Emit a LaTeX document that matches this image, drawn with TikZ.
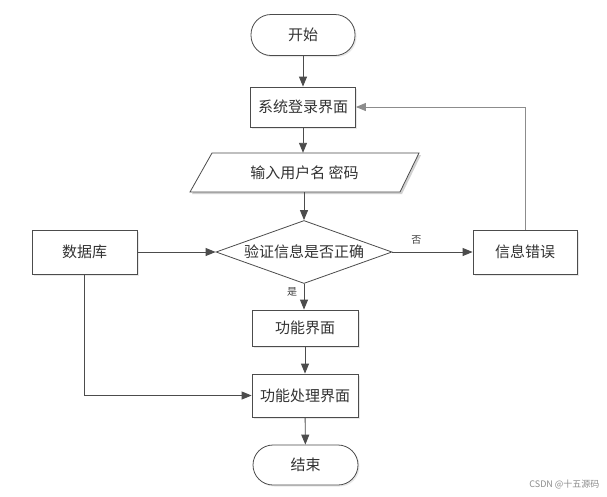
\documentclass[tikz,border=0pt]{standalone}
\usepackage{fontspec}
\setmainfont{Noto Sans CJK SC}
\usetikzlibrary{shapes.geometric,arrows.meta,shadows}
\begin{document}
\begin{tikzpicture}[x=1pt,y=-1pt,
  every node/.style={font=\fontsize{15}{17}\selectfont, text=black!80},
  shad/.style={drop shadow={opacity=0.18,shadow xshift=1.5pt,shadow yshift=-1.5pt}},
  procbox/.style={draw=black!70, fill=white, line width=0.8pt, minimum width=105pt, minimum height=40pt, inner sep=0pt, shad},
  termbox/.style={draw=black!70, fill=white, line width=0.8pt, rounded corners=20pt, minimum width=104pt, minimum height=41pt, inner sep=0pt, shad},
  decbox/.style={diamond, draw=black!70, fill=white, line width=0.8pt, aspect=2.8, minimum width=176pt, minimum height=63pt, inner sep=0pt},
  conn/.style={draw=black!70, line width=0.9pt, -{Triangle[length=10pt,width=8pt]}},
  lbl/.style={font=\fontsize{10}{12}\selectfont, text=black!75}
]
\useasboundingbox (0,0) rectangle (607,496);
\fill[white] (0,0) rectangle (607,496);

\node[termbox] (start) at (303,35) {开始};
\node[procbox] (login) at (303,107) {系统登录界面};
% parallelogram input
\fill[black!18] (214,155) -- (421,155) -- (402,194) -- (192,194) -- cycle;
\draw[black!70, fill=white, line width=0.8pt] (212,153) -- (419,153) -- (400,192) -- (190,192) -- cycle;
\node[minimum width=180pt, minimum height=39pt, inner sep=0pt] (input) at (304.5,172.5) {输入用户名 密码};
\node[decbox] (check) at (304,252) {验证信息是否正确};
\node[procbox, minimum width=105pt, minimum height=44pt] (db) at (84.5,252) {数据库};
\node[procbox, minimum width=104pt, minimum height=44pt] (err) at (525,252) {信息错误};
\node[procbox, minimum width=106pt, minimum height=36pt] (func) at (305,328) {功能界面};
\node[procbox, minimum width=106pt, minimum height=43pt] (proc) at (305,395.5) {功能处理界面};
\node[termbox, minimum width=105pt, minimum height=40pt] (end) at (305.5,465) {结束};

\draw[conn] (start) -- (login);
\draw[conn] (login.south) -- (login.south |- input.north);
\draw[conn] (input.south -| check.north) -- (check.north);
\draw[conn] (check.east) -- node[lbl, above, pos=0.3, yshift=4pt] {否} (err.west);
\draw[conn] (db.east) -- (check.west);
\draw[conn] (check.south) -- node[lbl, left, pos=0.3, xshift=-3pt] {是} (check.south |- func.north);
\draw[conn] (func) -- (proc);
\draw[conn] (proc) -- (end);
\coordinate (dbc) at (84,395.5);
\draw[conn] (db.south -| dbc) -- (dbc) -- (proc.west);
\coordinate (loopc) at (525,107);
\draw[conn, draw=black!45] (err.north) -- (loopc) -- (login.east);

\node[font=\fontsize{9}{11}\selectfont, text=black!45, anchor=east] (wm) at (603,484) {CSDN @十五源码};
\end{tikzpicture}
\end{document}
